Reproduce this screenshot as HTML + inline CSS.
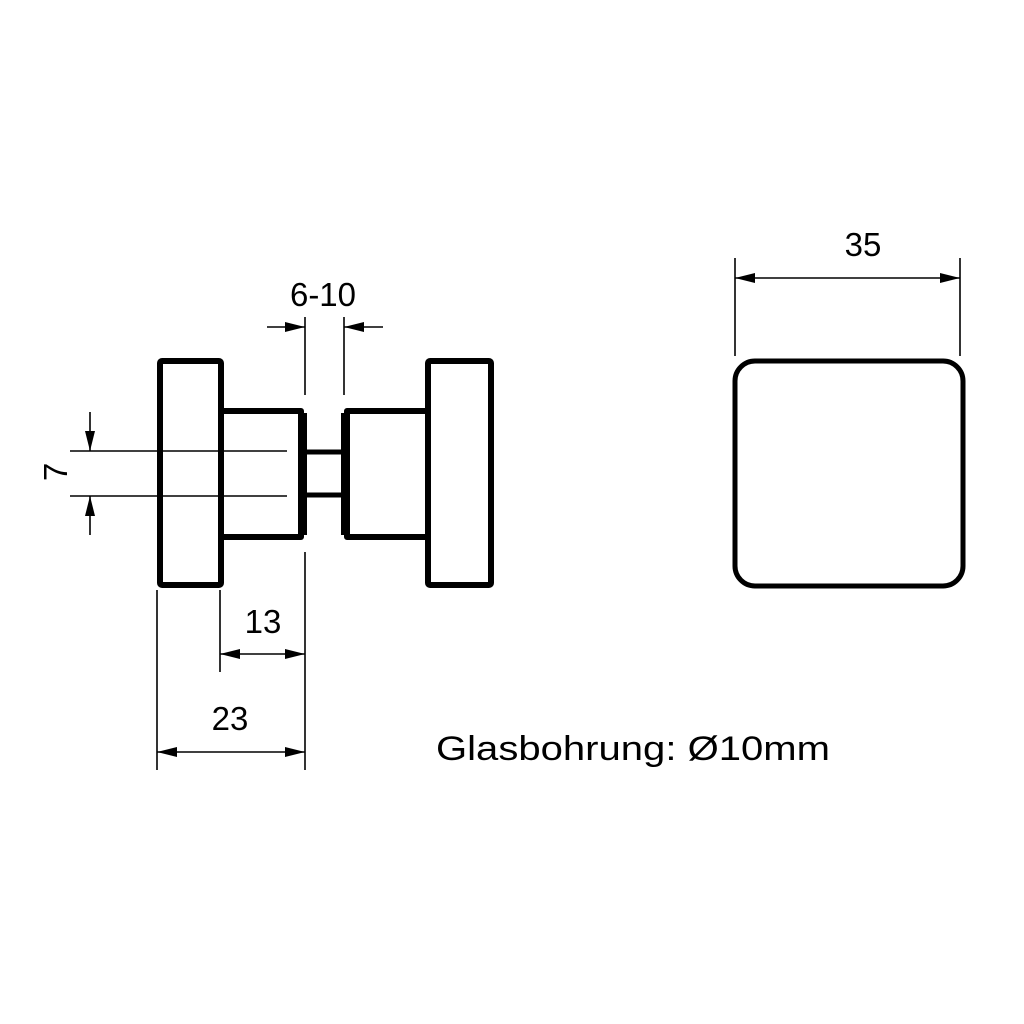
<!DOCTYPE html>
<html><head><style>html,body{margin:0;padding:0;background:#fff}svg{display:block}</style></head>
<body>
<svg width="1024" height="1024" viewBox="0 0 1024 1024" xmlns="http://www.w3.org/2000/svg">
<defs>
<marker id="a" viewBox="0 0 20 10" refX="20" refY="5" markerWidth="20" markerHeight="10" markerUnits="userSpaceOnUse" orient="auto">
<path d="M0,0 L20,5 L0,10 z" fill="#000"/>
</marker>
</defs>
<g fill="none" stroke="#000" stroke-width="6" stroke-linejoin="round">
<rect x="160" y="361" width="61" height="224" rx="2"/>
<rect x="428" y="361" width="63" height="224" rx="2"/>
<polyline points="221,411 301,411 301,537 221,537"/>
<polyline points="428,411 347,411 347,537 428,537"/>
<line x1="304" y1="413" x2="304" y2="535" stroke-width="6"/>
<line x1="344" y1="413" x2="344" y2="535" stroke-width="6"/>
<line x1="306" y1="452" x2="343" y2="452" stroke-width="5"/>
<line x1="306" y1="495" x2="343" y2="495" stroke-width="5"/>
<rect x="735" y="361" width="228" height="225" rx="20" stroke-width="5"/>
</g>
<g stroke="#000" stroke-width="1.6" fill="none">
<!-- 7 -->
<line x1="70" y1="451" x2="287" y2="451"/>
<line x1="70" y1="496" x2="287" y2="496"/>
<line x1="90" y1="412" x2="90" y2="451" marker-end="url(#a)"/>
<line x1="90" y1="535" x2="90" y2="496" marker-end="url(#a)"/>
<!-- 6-10 -->
<line x1="305" y1="317" x2="305" y2="395"/>
<line x1="344" y1="317" x2="344" y2="395"/>
<line x1="267" y1="327" x2="305" y2="327" marker-end="url(#a)"/>
<line x1="383" y1="327" x2="344" y2="327" marker-end="url(#a)"/>
<!-- 13/23 -->
<line x1="305" y1="552" x2="305" y2="770"/>
<line x1="220" y1="590" x2="220" y2="672"/>
<line x1="157" y1="590" x2="157" y2="770"/>
<line x1="262" y1="654" x2="220" y2="654" marker-end="url(#a)"/>
<line x1="262" y1="654" x2="305" y2="654" marker-end="url(#a)"/>
<line x1="231" y1="752" x2="157" y2="752" marker-end="url(#a)"/>
<line x1="231" y1="752" x2="305" y2="752" marker-end="url(#a)"/>
<!-- 35 -->
<line x1="735" y1="258" x2="735" y2="356"/>
<line x1="960" y1="258" x2="960" y2="356"/>
<line x1="848" y1="278" x2="735" y2="278" marker-end="url(#a)"/>
<line x1="848" y1="278" x2="960" y2="278" marker-end="url(#a)"/>
</g>
<g font-family="Liberation Sans, Arial, sans-serif" font-size="33" fill="#000" text-anchor="middle">
<text x="863" y="256">35</text>
<text x="323" y="306">6-10</text>
<text x="263" y="633">13</text>
<text x="230" y="730">23</text>
<text transform="translate(67,472) rotate(-90)">7</text>
<text x="633" y="760" font-size="34" textLength="394" lengthAdjust="spacingAndGlyphs">Glasbohrung: Ø10mm</text>
</g>
</svg>
</body></html>
